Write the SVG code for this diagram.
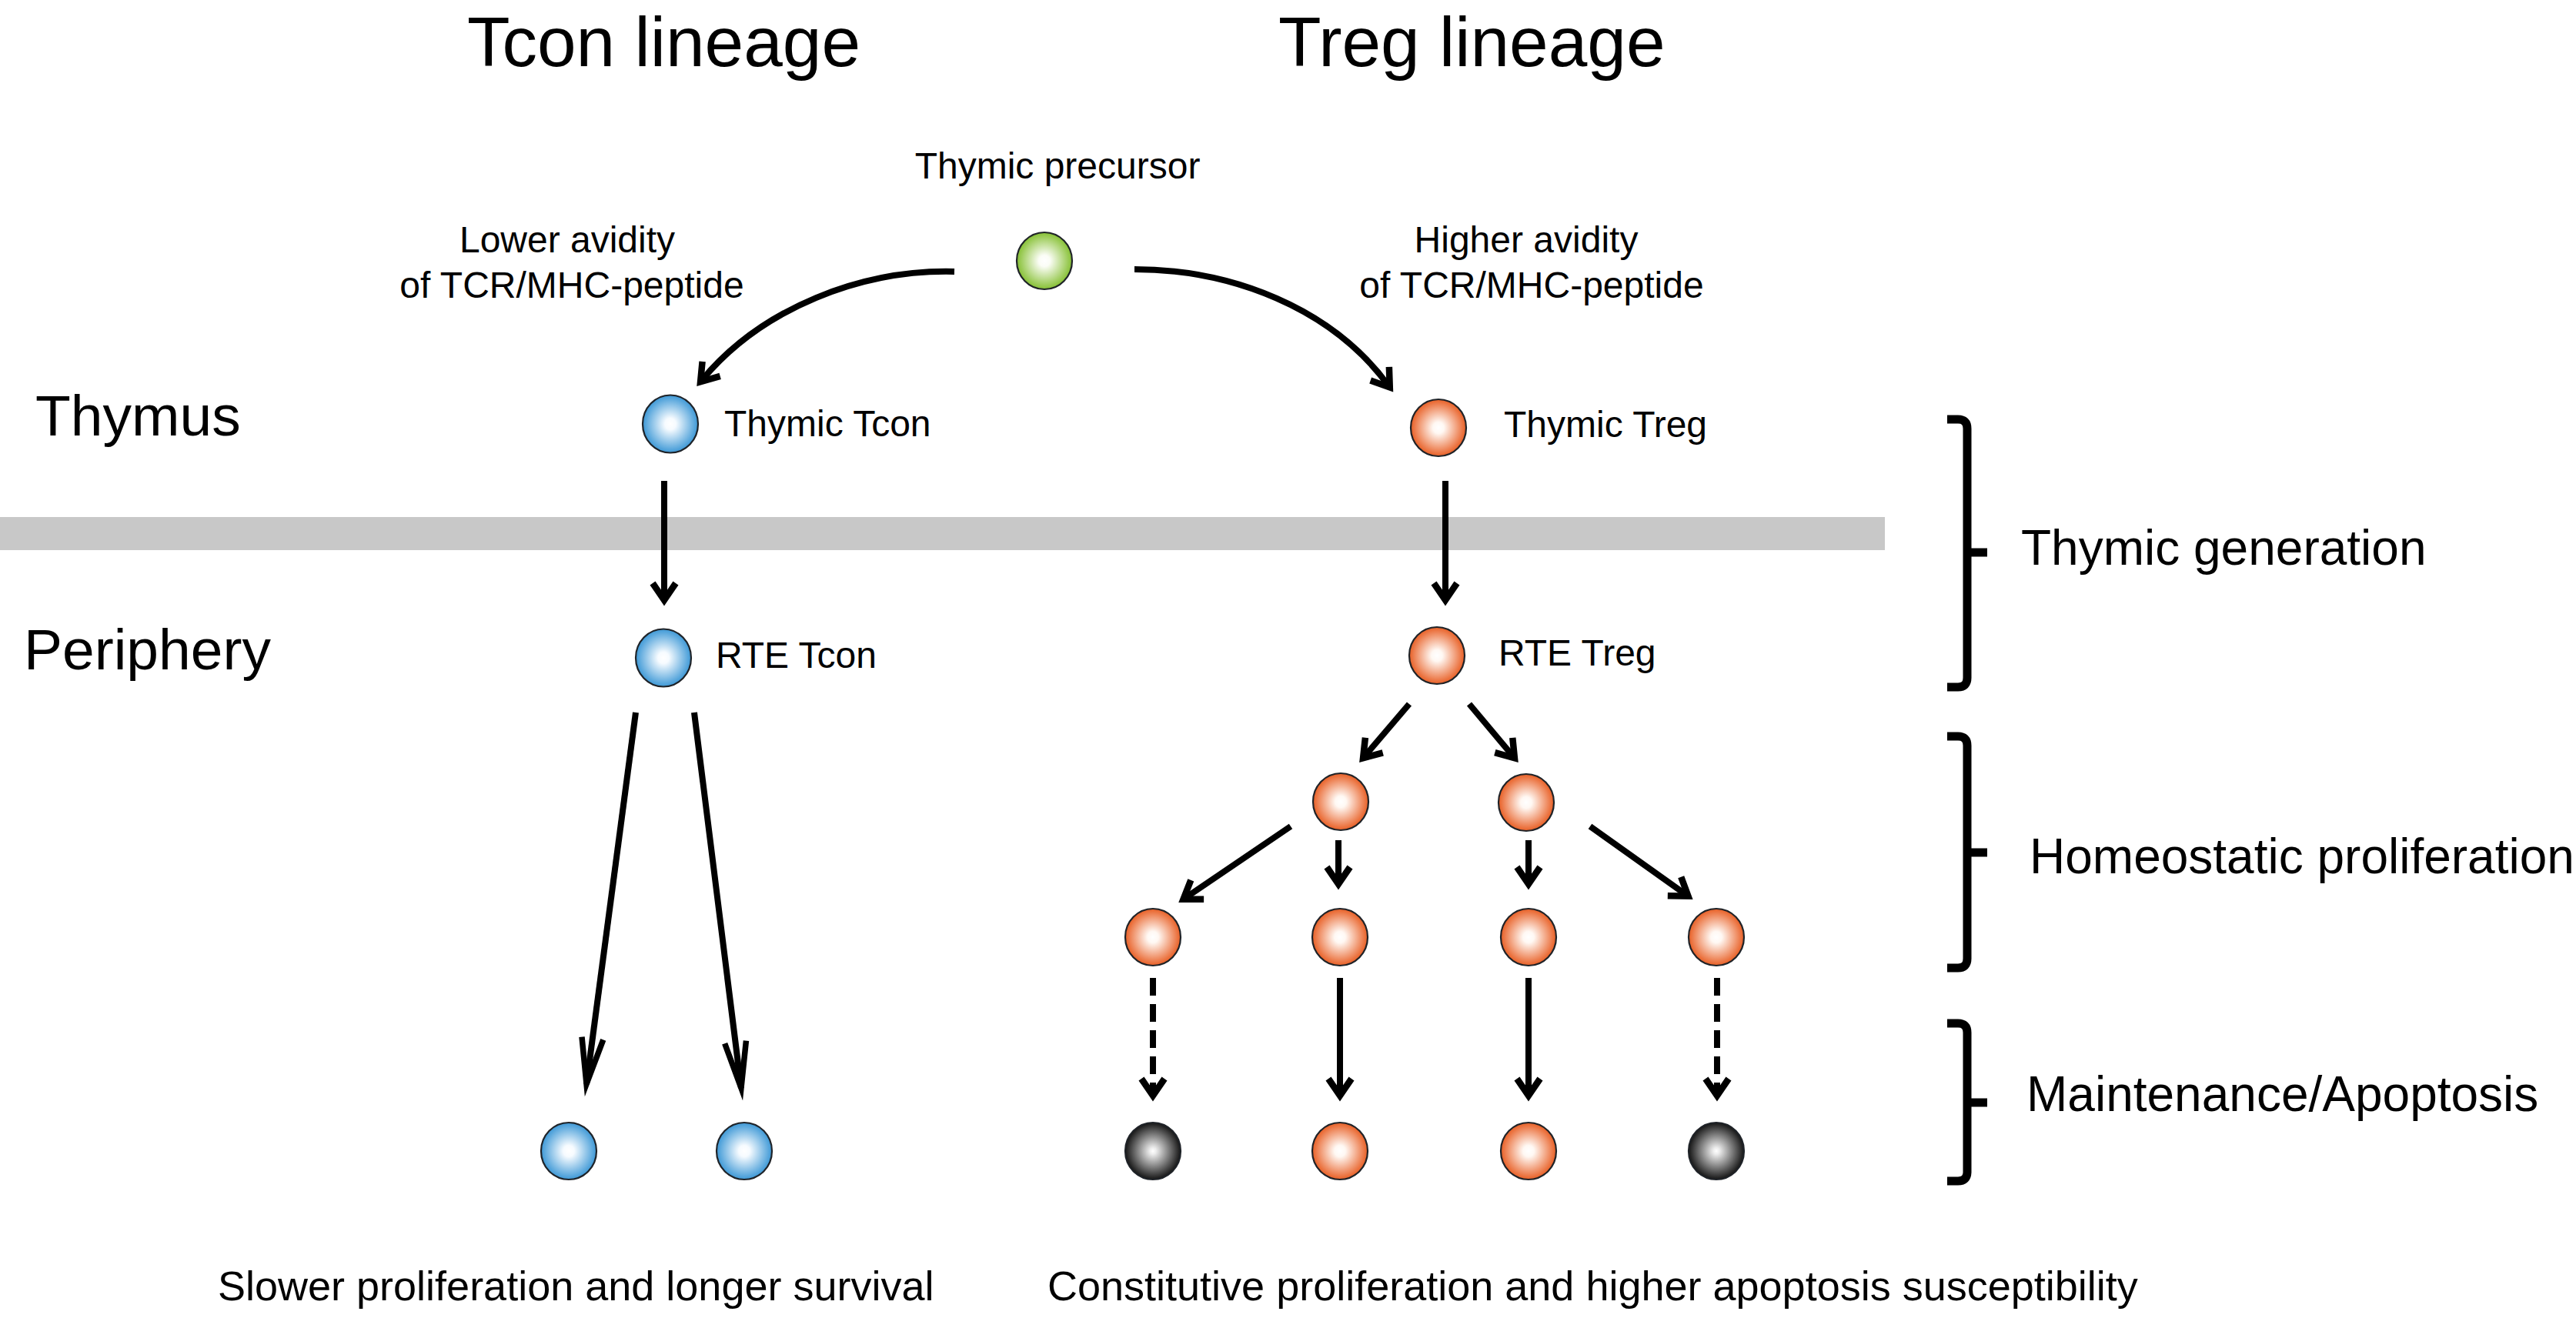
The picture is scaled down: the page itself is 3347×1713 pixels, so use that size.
<svg xmlns="http://www.w3.org/2000/svg" width="3347" height="1713" viewBox="0 0 3347 1713">
<style>
text{font-family:"Liberation Sans",Arial,Helvetica,sans-serif;fill:#000}
.title{font-size:91px}
.region{font-size:75px}
.lbl{font-size:48px}
.phase{font-size:64px}
.foot{font-size:54px}
.cell{stroke:#1f2328;stroke-width:2.2}
.conn{fill:none;stroke:#000;stroke-width:8}
.dash{stroke-dasharray:23 11}
.br{fill:none;stroke:#000;stroke-width:11;stroke-linejoin:round}
</style>
<defs>
<radialGradient id="gGreen" cx="50%" cy="50%" r="50%">
<stop offset="0" stop-color="#ffffff"/><stop offset="0.2" stop-color="#fbfdf6"/><stop offset="1" stop-color="#86c034"/>
</radialGradient>
<radialGradient id="gBlue" cx="50%" cy="50%" r="50%">
<stop offset="0" stop-color="#ffffff"/><stop offset="0.2" stop-color="#f6fbff"/><stop offset="1" stop-color="#3d98d6"/>
</radialGradient>
<radialGradient id="gOrange" cx="50%" cy="50%" r="50%">
<stop offset="0" stop-color="#ffffff"/><stop offset="0.2" stop-color="#fff8f3"/><stop offset="1" stop-color="#e85f25"/>
</radialGradient>
<radialGradient id="gBlack" cx="50%" cy="50%" r="50%">
<stop offset="0" stop-color="#ffffff"/><stop offset="0.12" stop-color="#ececec"/><stop offset="1" stop-color="#151515"/>
</radialGradient>
<marker id="ah" markerUnits="userSpaceOnUse" viewBox="-45 -25 50 50" markerWidth="50" markerHeight="50" refX="-10" refY="0" orient="auto" overflow="visible">
<path d="M-29,-15 L-7,0 L-29,15" fill="none" stroke="#000" stroke-width="8.5" stroke-linejoin="miter" stroke-miterlimit="10"/>
</marker>
<marker id="ahLong" markerUnits="userSpaceOnUse" viewBox="-90 -25 95 50" markerWidth="95" markerHeight="50" refX="-14" refY="0" orient="auto" overflow="visible">
<path d="M-74,-14 L-14,0 L-74,14" fill="none" stroke="#000" stroke-width="7.5" stroke-linejoin="miter" stroke-miterlimit="12"/>
</marker>
</defs>
<rect width="3347" height="1713" fill="#ffffff"/>

<g id="headers">
<text class="title" x="607" y="86">Tcon lineage</text>
<text class="title" x="1661" y="86">Treg lineage</text>
<text class="region" x="46" y="566">Thymus</text>
<text class="region" x="31" y="870">Periphery</text>
</g>

<rect id="thymus-boundary" x="0" y="672" width="2449" height="43" fill="#c8c8c8"/>

<g id="connectors">
<path class="conn" d="M1240,353 C1120,350 990,400 912,494" marker-end="url(#ah)"/>
<path class="conn" d="M1474,350 C1600,350 1730,400 1804,501" marker-end="url(#ah)"/>
<line class="conn" x1="863" y1="625" x2="863" y2="777" marker-end="url(#ah)"/>
<line class="conn" x1="1878" y1="625" x2="1878" y2="777" marker-end="url(#ah)"/>
<line class="conn" x1="826" y1="926" x2="762" y2="1409" stroke-width="7" marker-end="url(#ahLong)"/>
<line class="conn" x1="902" y1="926" x2="963" y2="1414" stroke-width="7" marker-end="url(#ahLong)"/>
<line class="conn" x1="1831" y1="915" x2="1773" y2="983" marker-end="url(#ah)"/>
<line class="conn" x1="1909" y1="915" x2="1966" y2="983" marker-end="url(#ah)"/>
<line class="conn" x1="1677" y1="1074" x2="1540" y2="1167" marker-end="url(#ah)"/>
<line class="conn" x1="1739" y1="1092" x2="1739" y2="1146" marker-end="url(#ah)"/>
<line class="conn" x1="1986" y1="1092" x2="1986" y2="1146" marker-end="url(#ah)"/>
<line class="conn" x1="2066" y1="1074" x2="2191" y2="1163" marker-end="url(#ah)"/>
<line class="conn dash" x1="1498" y1="1271" x2="1498" y2="1421" marker-end="url(#ah)"/>
<line class="conn" x1="1741" y1="1271" x2="1741" y2="1421" marker-end="url(#ah)"/>
<line class="conn" x1="1986" y1="1271" x2="1986" y2="1421" marker-end="url(#ah)"/>
<line class="conn dash" x1="2231" y1="1271" x2="2231" y2="1421" marker-end="url(#ah)"/>
</g>

<g id="precursor">
<ellipse class="cell" cx="1357" cy="339" rx="36" ry="37" fill="url(#gGreen)"/>
<text class="lbl" x="1374" y="232" text-anchor="middle">Thymic precursor</text>
</g>
<g id="lower-avidity-label">
<text class="lbl" x="737" y="328" text-anchor="middle">Lower avidity</text>
<text class="lbl" x="743" y="387" text-anchor="middle">of TCR/MHC-peptide</text>
</g>
<g id="higher-avidity-label">
<text class="lbl" x="1983" y="328" text-anchor="middle">Higher avidity</text>
<text class="lbl" x="1990" y="387" text-anchor="middle">of TCR/MHC-peptide</text>
</g>

<g id="thymic-tcon">
<ellipse class="cell" cx="871" cy="551" rx="36" ry="37.5" fill="url(#gBlue)"/>
<text class="lbl" x="941" y="567">Thymic Tcon</text>
</g>
<g id="rte-tcon">
<ellipse class="cell" cx="862" cy="855" rx="36" ry="37.5" fill="url(#gBlue)"/>
<text class="lbl" x="930" y="868">RTE Tcon</text>
</g>
<g id="tcon-out-1"><ellipse class="cell" cx="739" cy="1496" rx="36" ry="37" fill="url(#gBlue)"/></g>
<g id="tcon-out-2"><ellipse class="cell" cx="967" cy="1496" rx="36" ry="37" fill="url(#gBlue)"/></g>

<g id="thymic-treg">
<ellipse class="cell" cx="1869" cy="556" rx="36" ry="37" fill="url(#gOrange)"/>
<text class="lbl" x="1954" y="568">Thymic Treg</text>
</g>
<g id="rte-treg">
<ellipse class="cell" cx="1867" cy="852" rx="36" ry="37" fill="url(#gOrange)"/>
<text class="lbl" x="1947" y="865">RTE Treg</text>
</g>
<g id="treg-l2-1"><ellipse class="cell" cx="1742" cy="1042" rx="36" ry="37" fill="url(#gOrange)"/></g>
<g id="treg-l2-2"><ellipse class="cell" cx="1983" cy="1043" rx="36" ry="37" fill="url(#gOrange)"/></g>
<g id="treg-l3-1"><ellipse class="cell" cx="1498" cy="1218" rx="36" ry="37" fill="url(#gOrange)"/></g>
<g id="treg-l3-2"><ellipse class="cell" cx="1741" cy="1218" rx="36" ry="37" fill="url(#gOrange)"/></g>
<g id="treg-l3-3"><ellipse class="cell" cx="1986" cy="1218" rx="36" ry="37" fill="url(#gOrange)"/></g>
<g id="treg-l3-4"><ellipse class="cell" cx="2230" cy="1218" rx="36" ry="37" fill="url(#gOrange)"/></g>
<g id="treg-l4-1"><ellipse class="cell" cx="1498" cy="1496" rx="36" ry="37" fill="url(#gBlack)"/></g>
<g id="treg-l4-2"><ellipse class="cell" cx="1741" cy="1496" rx="36" ry="37" fill="url(#gOrange)"/></g>
<g id="treg-l4-3"><ellipse class="cell" cx="1986" cy="1496" rx="36" ry="37" fill="url(#gOrange)"/></g>
<g id="treg-l4-4"><ellipse class="cell" cx="2230" cy="1496" rx="36" ry="37" fill="url(#gBlack)"/></g>

<g id="phase-thymic-generation">
<path class="br" d="M2530,545 H2544 Q2556,545 2556,557 V881 Q2556,893 2544,893 H2530 M2556,718 H2582"/>
<text class="phase" x="2626" y="734">Thymic generation</text>
</g>
<g id="phase-homeostatic">
<path class="br" d="M2530,957 H2544 Q2556,957 2556,969 V1246 Q2556,1258 2544,1258 H2530 M2556,1108 H2582"/>
<text class="phase" x="2637" y="1135">Homeostatic proliferation</text>
</g>
<g id="phase-maintenance">
<path class="br" d="M2530,1330 H2544 Q2556,1330 2556,1342 V1523 Q2556,1535 2544,1535 H2530 M2556,1433 H2582"/>
<text class="phase" x="2633" y="1444">Maintenance/Apoptosis</text>
</g>

<g id="footnotes">
<text class="foot" x="283" y="1690">Slower proliferation and longer survival</text>
<text class="foot" x="1361" y="1690">Constitutive proliferation and higher apoptosis susceptibility</text>
</g>
</svg>
